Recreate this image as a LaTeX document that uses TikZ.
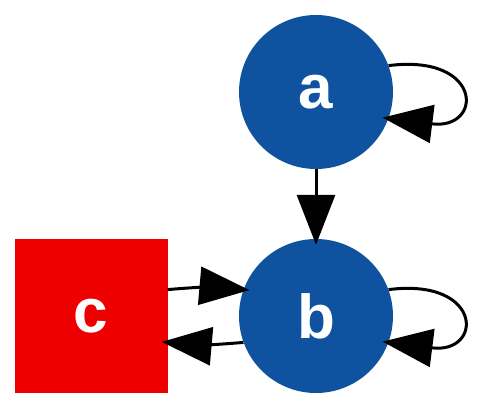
\documentclass[tikz,border=0pt]{standalone}
\usepackage{fontspec}
\setmainfont{Liberation Sans}
\usepackage{xcolor}
\usetikzlibrary{arrows.meta,positioning}

\definecolor{nodeblue}{HTML}{0F52A0}
\definecolor{nodered}{HTML}{EE0000}

\begin{document}
\begin{tikzpicture}[
  x=1pt, y=-1pt,
  font=\bfseries\fontsize{62}{62}\selectfont,
  state/.style={circle, fill=nodeblue, text=white, minimum size=154pt, inner sep=0pt},
  sink/.style={rectangle, fill=nodered, text=white, minimum width=153pt, minimum height=154pt, inner sep=0pt},
  arr/.style={-{Triangle[length=50pt, width=38pt]}, line width=3pt, shorten >=-6pt}
]
  \useasboundingbox (0,0) rectangle (483,408);

  \node[state] at (316,92) (a) {a};
  \node[state] at (316,316) (b) {b};
  \node[sink] at (91,316) (c) {c};

  \draw[arr] (a.south) -- (b.north);
  \draw[arr] (c.19) to[bend left=5] (b.160);
  \draw[arr] (b.200) to[bend left=5] (c.-19);
  \draw[arr] (a.20) .. controls +(95,-12) and +(95,12) .. (a.-20);
  \draw[arr] (b.20) .. controls +(95,-12) and +(95,12) .. (b.-20);
\end{tikzpicture}
\end{document}
